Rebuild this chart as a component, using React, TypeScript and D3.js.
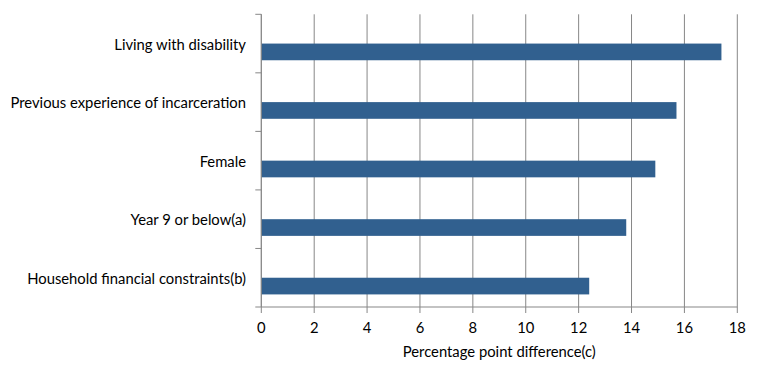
import React from "react";
import * as d3 from "d3";

const categories = [
  "Living with disability",
  "Previous experience of incarceration",
  "Female",
  "Year 9 or below(a)",
  "Household financial constraints(b)",
];
const values = [17.4, 15.7, 14.9, 13.8, 12.4];
const xTicks = [0, 2, 4, 6, 8, 10, 12, 14, 16, 18];
const xTitle = "Percentage point difference(c)";

const W = 760;
const H = 377;
const left = 261.3;
const right = 737.3;
const top = 14.3;
const bottom = 307;
const font = "Lato, 'Open Sans', sans-serif";
const grid = "#878787";
const fs = 14.8;

export default function App() {
  const x = d3.scaleLinear().domain([0, 18]).range([left, right]);
  const y = d3.scaleBand().domain(categories).range([top, bottom]).paddingInner(0).paddingOuter(0);
  const bw = y.bandwidth();
  const bounds = d3.range(categories.length + 1).map((i) => top + i * bw);

  return (
    <svg
      width={W}
      height={H}
      style={{ position: "absolute", left: 0, top: 0, background: "#fff" }}
      fontFamily={font}
    >
      {xTicks.map((t) => (
        <line key={"g" + t} x1={x(t)} x2={x(t)} y1={top} y2={bottom + 6} stroke={grid} strokeWidth={1} />
      ))}
      {bounds.map((b, i) => (
        <line key={"yt" + i} x1={left - 6} x2={left} y1={b} y2={b} stroke={grid} strokeWidth={1} />
      ))}
      <line x1={left} x2={right} y1={bottom} y2={bottom} stroke={grid} strokeWidth={1} />
      {categories.map((c, i) => (
        <rect
          key={"b" + c}
          x={x(0)}
          y={(y(c) as number) + bw * 0.5}
          width={x(values[i]) - x(0)}
          height={bw * 0.285}
          fill="#31608f"
        />
      ))}
      <line x1={left} x2={left} y1={top} y2={bottom} stroke={grid} strokeWidth={1} />
      {categories.map((c) => (
        <text
          key={"l" + c}
          x={246}
          y={(y(c) as number) + bw / 2}
          textAnchor="end"
          dominantBaseline="central"
          fontSize={fs}
          fill="#000"
        >
          {c}
        </text>
      ))}
      {xTicks.map((t) => (
        <text
          key={"xl" + t}
          x={x(t)}
          y={327}
          textAnchor="middle"
          dominantBaseline="central"
          fontSize={fs}
          fill="#000"
        >
          {t}
        </text>
      ))}
      <text
        x={(left + right) / 2}
        y={351}
        textAnchor="middle"
        dominantBaseline="central"
        fontSize={fs}
        fill="#000"
      >
        {xTitle}
      </text>
    </svg>
  );
}
